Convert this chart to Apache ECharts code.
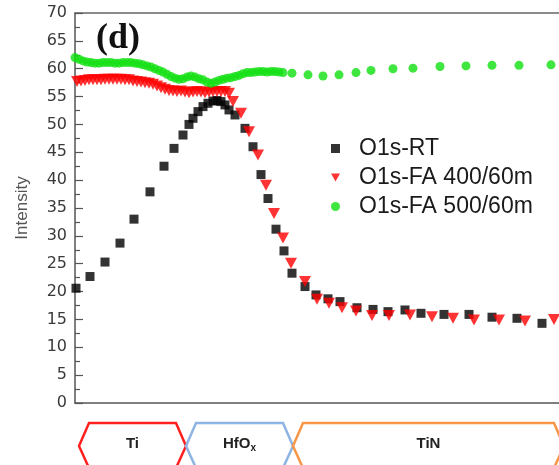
<!DOCTYPE html>
<html>
<head>
<meta charset="utf-8">
<script src="https://cdn.jsdelivr.net/npm/echarts@6/dist/echarts.min.js"></script>
<style>
html,body{margin:0;padding:0;background:#fff;}
#c{width:559px;height:465px;}
</style>
</head>
<body>
<div id="c"></div>
<script>
// ---- data (x = relative depth units, y = intensity) ----
const seriesNames = ['O1s-RT', 'O1s-FA 400/60m', 'O1s-FA 500/60m'];
const yTicks = [0, 5, 10, 15, 20, 25, 30, 35, 40, 45, 50, 55, 60, 65, 70];
const layers = ['Ti', 'HfOx', 'TiN'];

const rtX = [1,15,30,45,59,75,89,99,108,114,118,123,128,133,138,142,146,150,154,160,170,178,186,193,201,209,217,230,241,253,265,282,298,313,330,346,369,394,417,442,467];
const rtY = [20.6,22.7,25.3,28.7,33.0,37.9,42.5,45.7,48.1,50.0,51.1,52.3,53.2,53.8,54.2,54.3,54.1,53.5,52.6,51.7,49.3,46.0,41.0,36.7,31.2,27.3,23.3,20.9,19.4,18.7,18.2,17.1,16.8,16.4,16.7,16.1,15.9,15.9,15.4,15.2,14.3];

const fa400X = [2,6,10,14,18,22,26,30,34,38,42,46,50,54,58,62,66,70,74,78,82,86,90,94,98,102,106,110,114,118,122,126,130,134,138,142,146,150,154,
  158,166,174,183,191,199,208,216,230,242,254,267,281,297,314,335,357,378,399,424,450,479];
const fa400Y = [57.7,57.8,57.9,58.0,58.0,58.0,58.0,58.1,58.1,58.1,58.1,58.1,58.0,58.0,57.8,57.7,57.6,57.5,57.4,57.2,56.9,56.6,56.3,56.1,56.0,55.9,56.0,55.8,55.7,55.8,55.9,55.8,55.7,55.8,55.9,55.9,55.9,55.9,55.6,
  54.1,52.0,48.7,44.5,39.1,34.0,29.6,25.1,21.8,18.6,17.9,17.1,16.5,15.7,15.7,15.8,15.5,15.2,14.9,14.9,14.7,15.0];

const fa500X = [0,4,8,12,16,20,24,28,32,36,40,44,48,52,56,60,64,68,72,76,80,84,88,92,96,100,104,108,112,116,120,124,128,132,136,140,144,148,152,156,160,164,168,172,176,180,184,188,192,196,200,204,
  208,217,233,248,264,281,296,318,338,365,391,417,444,476];
const fa500Y = [62.0,61.7,61.4,61.2,61.1,61.0,61.0,61.1,61.1,61.1,61.0,61.0,61.1,61.1,61.1,61.0,60.9,60.7,60.5,60.3,60.0,59.7,59.4,59.0,58.6,58.3,58.1,58.2,58.5,58.7,58.5,58.2,58.0,57.6,57.4,57.6,57.9,58.1,58.3,58.4,58.6,58.8,59.1,59.3,59.3,59.4,59.5,59.5,59.4,59.5,59.5,59.4,
  59.3,59.2,58.9,58.7,58.9,59.3,59.7,60.0,60.1,60.4,60.5,60.6,60.6,60.7];

const zip = (xs, ys) => xs.map((x, i) => [x, ys[i]]);
const triDown = 'path://M0,0L10,0L5,9Z';

const chart = echarts.init(document.getElementById('c'), null, {renderer: 'canvas'});

// layer band shapes (decoration under the axis)
function band(x0, x1, color, label) {
  const yT = 423, yM = 446, yB = 468, d = 10;
  return {
    type: 'group',
    children: [
      {type: 'polygon', shape: {points: [[x0, yM], [x0 + d, yT], [x1 - d, yT], [x1, yM], [x1 - d, yB], [x0 + d, yB]]},
       style: {fill: 'none', stroke: color, lineWidth: 2.5}},
      {type: 'text', x: (x0 + x1) / 2, y: 444,
       style: {text: label, rich: {b: {fontSize: 15, fontWeight: 'bold', fontFamily: 'Liberation Sans', fill: '#222'},
                                    s: {fontSize: 10, fontWeight: 'bold', fontFamily: 'Liberation Sans', fill: '#222', padding: [9, 0, 0, 0]}},
               align: 'center', verticalAlign: 'middle'}}
    ]
  };
}

const option = {
  animation: false,
  backgroundColor: '#fff',
  grid: {left: 75, right: 0, top: 13, bottom: 62, containLabel: false},
  xAxis: [
    {type: 'value', min: 0, max: 484, position: 'bottom',
     axisLine: {show: true, lineStyle: {color: '#555', width: 1.5}},
     axisTick: {show: false}, axisLabel: {show: false}, splitLine: {show: false}},
    {type: 'value', min: 0, max: 484, position: 'top',
     axisLine: {show: true, lineStyle: {color: '#666', width: 1.5}},
     axisTick: {show: false}, axisLabel: {show: false}, splitLine: {show: false}}
  ],
  yAxis: {
    type: 'value', min: yTicks[0], max: yTicks[yTicks.length - 1], interval: 5,
    name: 'Intensity', nameLocation: 'middle', nameGap: 44,
    nameTextStyle: {fontSize: 17, color: '#555', fontFamily: 'Liberation Sans'},
    axisLine: {show: true, lineStyle: {color: '#555', width: 1.5}},
    axisTick: {show: true, inside: true, length: 8, lineStyle: {color: '#555', width: 1.2}},
    minorTick: {show: true, splitNumber: 2, length: 5, lineStyle: {color: '#555', width: 1.2}},
    axisLabel: {fontSize: 16, color: '#3a3a3a', fontFamily: 'DejaVu Sans', margin: 8},
    splitLine: {show: false}
  },
  legend: {
    orient: 'vertical', left: 326, top: 132, itemWidth: 9, itemHeight: 9, itemGap: 6,
    textStyle: {fontSize: 23, color: '#1a1a1a', fontFamily: 'Liberation Sans', padding: [0, 0, 0, 14]},
    data: [
      {name: seriesNames[0], icon: 'rect'},
      {name: seriesNames[1], icon: triDown},
      {name: seriesNames[2], icon: 'circle'}
    ]
  },
  series: [
    {name: seriesNames[0], type: 'scatter', data: zip(rtX, rtY), symbol: 'rect', symbolSize: 9,
     itemStyle: {color: '#000'}},
    {name: seriesNames[1], type: 'scatter', data: zip(fa400X, fa400Y), symbol: triDown, symbolSize: [12, 11],
     itemStyle: {color: '#f00'}},
    {name: seriesNames[2], type: 'scatter', data: zip(fa500X, fa500Y), symbol: 'circle', symbolSize: 9,
     itemStyle: {color: '#10e010'}}
  ],
  graphic: [
    {type: 'text', x: 96, y: 21, style: {text: '(d)', fontSize: 36, fontWeight: 'bold', fontFamily: 'Liberation Serif', fill: '#111'}},
    band(79, 186, '#ff2020', '{b|' + layers[0] + '}'),
    band(186, 293, '#8db4e2', '{b|HfO}{s|x}'),
    band(293, 564, '#f79646', '{b|' + layers[2] + '}')
  ]
};
chart.setOption(option);
</script>
</body>
</html>
